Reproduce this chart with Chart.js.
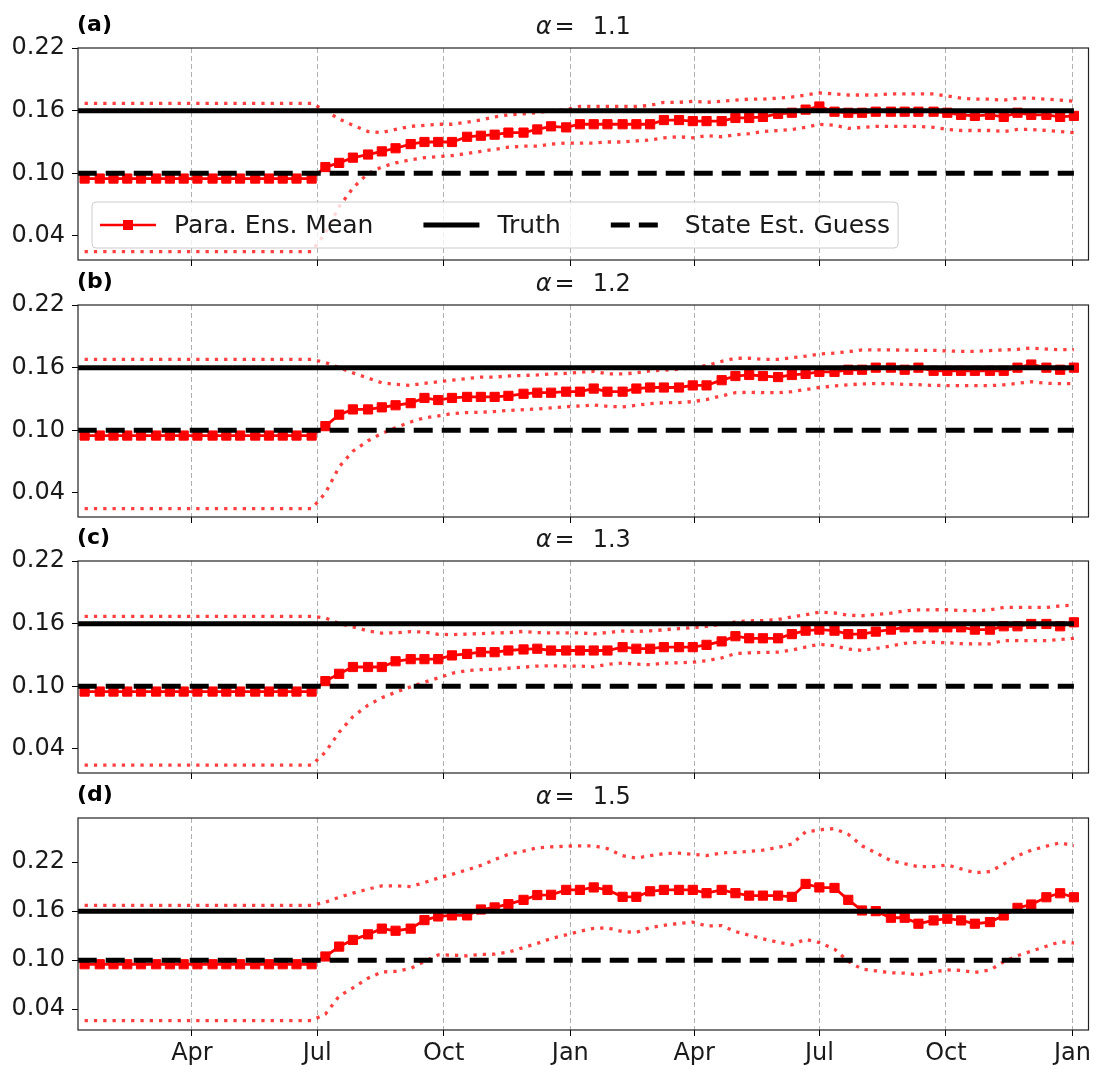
<!DOCTYPE html>
<html>
<head>
<meta charset="utf-8">
<script src="https://cdn.jsdelivr.net/npm/chart.js@4.4.0/dist/chart.umd.min.js"></script>
<style>
  body { margin: 0; background: #fff; }
  #wrap { position: relative; width: 1096px; height: 1070px; }
  #wrap canvas { position: absolute; left: 0; }
</style>
</head>
<body>
<div id="wrap">
  <canvas id="pa"></canvas>
  <canvas id="pb"></canvas>
  <canvas id="pc"></canvas>
  <canvas id="pd"></canvas>
</div>
<script>
// days counted from Jan 1 of the first year
const days = [
  12, 23, 33, 43, 53, 64, 74, 84, 94, 105,
  115, 125, 136, 146, 156, 166, 177, 187, 197, 207,
  218, 228, 238, 249, 259, 269, 279, 290, 300, 310,
  320, 331, 341, 351, 362, 372, 382, 392, 403, 413,
  423, 433, 444, 454, 464, 475, 485, 495, 505, 516,
  526, 536, 546, 557, 567, 577, 587, 598, 608, 618,
  629, 639, 649, 659, 670, 680, 690, 700, 711, 721,
  731
];
const tickDays = [90, 181, 273, 365, 455, 546, 638, 730];
const tickLabels = ['Apr', 'Jul', 'Oct', 'Jan', 'Apr', 'Jul', 'Oct', 'Jan'];
const yTicks = [0.04, 0.10, 0.16, 0.22];
const refSpan = [7, 731];
const truthValue = 0.16;
const guessValue = 0.10;
const alphas = ['1.1', '1.2', '1.3', '1.5'];
const tags = ['(a)', '(b)', '(c)', '(d)'];

// (a) alpha = 1.1
const meanA = [
  0.095, 0.095, 0.095, 0.095, 0.095, 0.095, 0.095, 0.095, 0.095, 0.095,
  0.095, 0.095, 0.095, 0.095, 0.095, 0.095, 0.095, 0.106, 0.110, 0.115,
  0.118, 0.121, 0.124, 0.128, 0.130, 0.130, 0.130, 0.135, 0.136, 0.137,
  0.139, 0.139, 0.142, 0.145, 0.144, 0.147, 0.147, 0.147, 0.147, 0.147,
  0.147, 0.151, 0.151, 0.150, 0.150, 0.150, 0.153, 0.153, 0.154, 0.157,
  0.158, 0.161, 0.164, 0.159, 0.158, 0.158, 0.159, 0.159, 0.159, 0.159,
  0.159, 0.158, 0.156, 0.155, 0.156, 0.154, 0.158, 0.156, 0.156, 0.154,
  0.155
];
const hiA = [
  0.167, 0.167, 0.167, 0.167, 0.167, 0.167, 0.167, 0.167, 0.167, 0.167,
  0.167, 0.167, 0.167, 0.167, 0.167, 0.167, 0.167, 0.160, 0.152, 0.146,
  0.140, 0.139, 0.142, 0.145, 0.146, 0.147, 0.147, 0.149, 0.151, 0.154,
  0.156, 0.157, 0.158, 0.160, 0.161, 0.164, 0.164, 0.164, 0.164, 0.164,
  0.165, 0.168, 0.168, 0.169, 0.168, 0.169, 0.170, 0.171, 0.171, 0.172,
  0.173, 0.175, 0.177, 0.176, 0.175, 0.175, 0.175, 0.176, 0.176, 0.176,
  0.176, 0.174, 0.172, 0.171, 0.171, 0.170, 0.172, 0.172, 0.171, 0.170,
  0.169
];
const loA = [
  0.025, 0.025, 0.025, 0.025, 0.025, 0.025, 0.025, 0.025, 0.025, 0.025,
  0.025, 0.025, 0.025, 0.025, 0.025, 0.025, 0.025, 0.043, 0.068, 0.086,
  0.100, 0.106, 0.110, 0.113, 0.115, 0.116, 0.117, 0.119, 0.121, 0.123,
  0.125, 0.126, 0.126, 0.128, 0.129, 0.129, 0.129, 0.130, 0.130, 0.131,
  0.132, 0.134, 0.135, 0.134, 0.136, 0.135, 0.137, 0.138, 0.140, 0.141,
  0.142, 0.144, 0.147, 0.146, 0.143, 0.144, 0.145, 0.145, 0.145, 0.145,
  0.144, 0.142, 0.141, 0.141, 0.141, 0.140, 0.142, 0.142, 0.141, 0.140,
  0.139
];

// (b) alpha = 1.2
const meanB = [
  0.095, 0.095, 0.095, 0.095, 0.095, 0.095, 0.095, 0.095, 0.095, 0.095,
  0.095, 0.095, 0.095, 0.095, 0.095, 0.095, 0.095, 0.104, 0.115, 0.120,
  0.120, 0.122, 0.124, 0.126, 0.131, 0.129, 0.131, 0.132, 0.132, 0.132,
  0.133, 0.135, 0.136, 0.136, 0.137, 0.137, 0.140, 0.137, 0.137, 0.140,
  0.141, 0.141, 0.141, 0.143, 0.143, 0.148, 0.152, 0.153, 0.152, 0.151,
  0.153, 0.154, 0.156, 0.156, 0.158, 0.158, 0.160, 0.160, 0.158, 0.160,
  0.157, 0.157, 0.157, 0.157, 0.157, 0.157, 0.160, 0.163, 0.160, 0.158,
  0.160
];
const hiB = [
  0.168, 0.168, 0.168, 0.168, 0.168, 0.168, 0.168, 0.168, 0.168, 0.168,
  0.168, 0.168, 0.168, 0.168, 0.168, 0.168, 0.168, 0.165, 0.160, 0.155,
  0.150, 0.1455, 0.144, 0.143, 0.145, 0.1465, 0.148, 0.1495, 0.151, 0.151,
  0.152, 0.1525, 0.153, 0.154, 0.1545, 0.1555, 0.1565, 0.154, 0.154, 0.155,
  0.157, 0.1575, 0.1585, 0.160, 0.162, 0.166, 0.169, 0.169, 0.168, 0.168,
  0.1695, 0.171, 0.173, 0.174, 0.1753, 0.177, 0.177, 0.177, 0.1768, 0.1766,
  0.1766, 0.176, 0.1756, 0.1756, 0.1764, 0.177, 0.1776, 0.1788, 0.1778, 0.1772,
  0.1772
];
const loB = [
  0.025, 0.025, 0.025, 0.025, 0.025, 0.025, 0.025, 0.025, 0.025, 0.025,
  0.025, 0.025, 0.025, 0.025, 0.025, 0.025, 0.025, 0.040, 0.065, 0.080,
  0.090, 0.097, 0.1025, 0.108, 0.112, 0.1138, 0.116, 0.117, 0.1172, 0.118,
  0.119, 0.1198, 0.1204, 0.1215, 0.1226, 0.1233, 0.1243, 0.123, 0.1224, 0.124,
  0.1256, 0.1264, 0.1265, 0.1275, 0.1295, 0.133, 0.136, 0.1364, 0.136, 0.136,
  0.137, 0.139, 0.141, 0.1425, 0.1435, 0.1445, 0.1447, 0.1447, 0.144, 0.1437,
  0.143, 0.1428, 0.1428, 0.1428, 0.1428, 0.1435, 0.145, 0.1465, 0.145, 0.1447,
  0.1447
];

// (c) alpha = 1.3
const meanC = [
  0.095, 0.095, 0.095, 0.095, 0.095, 0.095, 0.095, 0.095, 0.095, 0.095,
  0.095, 0.095, 0.095, 0.095, 0.095, 0.095, 0.095, 0.105, 0.112, 0.1185,
  0.1185, 0.1185, 0.124, 0.126, 0.126, 0.126, 0.1296, 0.131, 0.1327, 0.1327,
  0.1343, 0.1353, 0.136, 0.1343, 0.1343, 0.1343, 0.1343, 0.1343, 0.1375, 0.136,
  0.136, 0.1375, 0.1375, 0.1375, 0.1397, 0.143, 0.148, 0.146, 0.146, 0.146,
  0.150, 0.1533, 0.1543, 0.1533, 0.150, 0.150, 0.1524, 0.1543, 0.1565, 0.1565,
  0.1565, 0.1565, 0.1565, 0.1543, 0.1543, 0.1575, 0.1575, 0.1597, 0.1597, 0.1575,
  0.1613
];
const hiC = [
  0.167, 0.167, 0.167, 0.167, 0.167, 0.167, 0.167, 0.167, 0.167, 0.167,
  0.167, 0.167, 0.167, 0.167, 0.167, 0.167, 0.167, 0.1655, 0.160, 0.157,
  0.153, 0.151, 0.1513, 0.1524, 0.152, 0.1498, 0.1495, 0.150, 0.1505, 0.1511,
  0.1514, 0.1526, 0.1515, 0.1511, 0.1511, 0.1511, 0.1502, 0.1515, 0.153, 0.1526,
  0.1531, 0.1541, 0.1553, 0.1563, 0.1573, 0.1594, 0.1616, 0.1627, 0.1629, 0.164,
  0.1665, 0.1685, 0.171, 0.1702, 0.168, 0.1676, 0.1688, 0.170, 0.1722, 0.1732,
  0.1733, 0.1733, 0.1725, 0.1724, 0.1732, 0.1755, 0.1755, 0.1755, 0.1755, 0.177,
  0.1778
];
const loC = [
  0.0245, 0.0245, 0.0245, 0.0245, 0.0245, 0.0245, 0.0245, 0.0245, 0.0245, 0.0245,
  0.0245, 0.0245, 0.0245, 0.0245, 0.0245, 0.0245, 0.0245, 0.037, 0.056, 0.071,
  0.082, 0.089, 0.0943, 0.0995, 0.104, 0.108, 0.1125, 0.115, 0.116, 0.1163,
  0.1173, 0.1183, 0.1194, 0.1196, 0.1194, 0.1194, 0.1187, 0.121, 0.1223, 0.1212,
  0.1207, 0.1222, 0.1226, 0.1231, 0.1245, 0.1272, 0.1313, 0.1321, 0.1325, 0.1327,
  0.1348, 0.1376, 0.1403, 0.1388, 0.1357, 0.1344, 0.1362, 0.1387, 0.1412, 0.1421,
  0.1422, 0.1417, 0.1408, 0.1407, 0.1407, 0.1438, 0.1438, 0.1438, 0.1438, 0.1448,
  0.146
];

// (d) alpha = 1.5
const meanD = [
  0.095, 0.095, 0.095, 0.095, 0.095, 0.095, 0.095, 0.095, 0.095, 0.095,
  0.095, 0.095, 0.095, 0.095, 0.095, 0.095, 0.095, 0.1045, 0.1166, 0.1248,
  0.1316, 0.1386, 0.136, 0.1386, 0.149, 0.1535, 0.1548, 0.1548, 0.162, 0.1645,
  0.1685, 0.1738, 0.1797, 0.180, 0.186, 0.186, 0.189, 0.186, 0.1775, 0.1775,
  0.1843, 0.186, 0.186, 0.186, 0.182, 0.186, 0.182, 0.179, 0.179, 0.179,
  0.1775, 0.1933, 0.189, 0.1884, 0.1738, 0.1608, 0.160, 0.1519, 0.1519, 0.1446,
  0.1486, 0.1507, 0.1486, 0.1446, 0.1466, 0.1547, 0.164, 0.1681, 0.177, 0.1819,
  0.177
];
const hiD = [
  0.167, 0.167, 0.167, 0.167, 0.167, 0.167, 0.167, 0.167, 0.167, 0.167,
  0.167, 0.167, 0.167, 0.167, 0.167, 0.167, 0.167, 0.171, 0.177, 0.182,
  0.187, 0.191, 0.191, 0.190, 0.195, 0.2005, 0.205, 0.2105, 0.216, 0.223,
  0.2295, 0.2335, 0.2375, 0.2387, 0.2395, 0.240, 0.240, 0.2365, 0.2278, 0.225,
  0.2278, 0.2305, 0.231, 0.2295, 0.228, 0.2312, 0.232, 0.233, 0.2347, 0.238,
  0.242, 0.257, 0.2595, 0.261, 0.254, 0.240, 0.2315, 0.2217, 0.218, 0.2144,
  0.2146, 0.2165, 0.2118, 0.207, 0.2085, 0.2175, 0.2278, 0.2345, 0.2395, 0.2437,
  0.240
];
const loD = [
  0.026, 0.026, 0.026, 0.026, 0.026, 0.026, 0.026, 0.026, 0.026, 0.026,
  0.026, 0.026, 0.026, 0.026, 0.026, 0.026, 0.026, 0.034, 0.056, 0.066,
  0.078, 0.0855, 0.0862, 0.090, 0.0985, 0.1065, 0.1062, 0.1052, 0.107, 0.1073,
  0.1098, 0.1155, 0.1205, 0.1265, 0.131, 0.1353, 0.139, 0.1395, 0.135, 0.134,
  0.140, 0.1426, 0.145, 0.1466, 0.1418, 0.1423, 0.135, 0.1305, 0.1262, 0.122,
  0.1187, 0.1256, 0.1215, 0.1135, 0.0985, 0.089, 0.087, 0.0845, 0.084, 0.082,
  0.0857, 0.088, 0.0875, 0.085, 0.0878, 0.098, 0.1055, 0.111, 0.117, 0.1225,
  0.121
];

const FONT = 'DejaVu Sans';
const RED = '#ff0000';
const RED_DOT = 'rgba(255, 0, 0, 0.75)';
Chart.defaults.font.family = FONT;

// box round the plot, panel tag, title and (in panel a) the legend
const panelDecor = {
  id: 'panelDecor',
  afterDatasetsDraw(chart, args, opts) {
    if (!opts.legend) return;
    const {ctx, chartArea: a} = chart;
    ctx.save();
    ctx.font = '25px "' + FONT + '"';
    const entries = [
      {text: 'Para. Ens. Mean', kind: 'mean'},
      {text: 'Truth', kind: 'truth'},
      {text: 'State Est. Guess', kind: 'guess'}
    ];
    const handleLen = 56, textPad = 18, colGap = 50, inner = 8, boxH = 46;
    let boxW = inner * 2;
    entries.forEach((e, i) => {
      e.w = ctx.measureText(e.text).width;
      boxW += handleLen + textPad + e.w + (i ? colGap : 0);
    });
    const bx = a.left + 14, by = a.bottom - 12 - boxH;
    ctx.beginPath();
    ctx.roundRect(bx, by, boxW, boxH, 4);
    ctx.fillStyle = 'rgba(255,255,255,0.8)';
    ctx.fill();
    ctx.strokeStyle = '#cccccc';
    ctx.lineWidth = 1;
    ctx.stroke();
    const cy = by + boxH / 2;
    let cx = bx + inner;
    entries.forEach((e, i) => {
      if (i) cx += colGap;
      ctx.beginPath();
      ctx.moveTo(cx, cy);
      ctx.lineTo(cx + handleLen, cy);
      if (e.kind === 'mean') {
        ctx.strokeStyle = RED; ctx.lineWidth = 2.5; ctx.setLineDash([]);
        ctx.stroke();
        ctx.fillStyle = RED;
        ctx.fillRect(cx + handleLen / 2 - 5, cy - 5, 10, 10);
      } else {
        ctx.strokeStyle = '#000'; ctx.lineWidth = 5;
        ctx.setLineDash(e.kind === 'guess' ? [19, 9] : []);
        ctx.stroke();
      }
      ctx.setLineDash([]);
      cx += handleLen + textPad;
      ctx.fillStyle = '#1a1a1a';
      ctx.textAlign = 'left';
      ctx.textBaseline = 'middle';
      ctx.fillText(e.text, cx, cy + 1);
      cx += e.w;
    });
    ctx.restore();
  },
  afterDraw(chart, args, opts) {
    const {ctx, chartArea: a} = chart;
    ctx.save();
    ctx.strokeStyle = '#222';
    ctx.lineWidth = 1.2;
    ctx.strokeRect(a.left, a.top, a.right - a.left, a.bottom - a.top);

    ctx.fillStyle = '#000';
    ctx.textBaseline = 'middle';
    ctx.textAlign = 'left';
    ctx.font = 'bold 22px "' + FONT + '"';
    ctx.fillText(opts.tag, a.left - 1, a.top - 23);

    // title: italic alpha, then "=  value"
    const partA = 'α', partB = '=', partC = opts.alpha;
    ctx.font = 'italic 24px "' + FONT + '"';
    const wA = ctx.measureText(partA).width;
    ctx.font = '24px "' + FONT + '"';
    const wB = ctx.measureText(partB).width;
    const wC = ctx.measureText(partC).width;
    const gap1 = 3, gap2 = 18;
    const total = wA + gap1 + wB + gap2 + wC;
    let x = (a.left + a.right) / 2 - total / 2;
    const y = a.top - 20;
    ctx.fillStyle = '#1a1a1a';
    ctx.font = 'italic 24px "' + FONT + '"';
    ctx.fillText(partA, x, y);
    x += wA + gap1;
    ctx.font = '24px "' + FONT + '"';
    ctx.fillText(partB, x, y);
    x += wB + gap2;
    ctx.fillText(partC, x, y);
    ctx.restore();
  }
};

const panels = [
  {id: 'pa', mean: meanA, hi: hiA, lo: loA, yMin: 0.017, yMax: 0.22, top: 0, showX: false, legend: true},
  {id: 'pb', mean: meanB, hi: hiB, lo: loB, yMin: 0.017, yMax: 0.22, top: 257, showX: false, legend: false},
  {id: 'pc', mean: meanC, hi: hiC, lo: loC, yMin: 0.017, yMax: 0.22, top: 513, showX: false, legend: false},
  {id: 'pd', mean: meanD, hi: hiD, lo: loD, yMin: 0.0145, yMax: 0.274, top: 770, showX: true, legend: false}
];

panels.forEach((p, i) => {
  const canvas = document.getElementById(p.id);
  canvas.width = 1096;
  canvas.height = p.showX ? 300 : 270;
  canvas.style.top = p.top + 'px';

  const pts = vals => days.map((d, k) => ({x: d, y: vals[k]}));
  const flat = v => refSpan.map(d => ({x: d, y: v}));

  new Chart(canvas, {
    type: 'line',
    data: {
      datasets: [
        {label: 'Truth', data: flat(truthValue), borderColor: '#000', borderWidth: 5, pointRadius: 0},
        {label: 'State Est. Guess', data: flat(guessValue), borderColor: '#000', borderWidth: 5,
          borderDash: [19, 9], pointRadius: 0},
        {label: 'Para. Ens. Mean', data: pts(p.mean), borderColor: RED, borderWidth: 2.8,
          pointStyle: 'rect', pointRadius: 6.5, pointBackgroundColor: RED, pointBorderColor: RED,
          pointBorderWidth: 1},
        {label: 'upper', data: pts(p.hi), borderColor: RED_DOT, borderWidth: 3.3,
          borderDash: [3.3, 6], pointRadius: 0},
        {label: 'lower', data: pts(p.lo), borderColor: RED_DOT, borderWidth: 3.3,
          borderDash: [3.3, 6], pointRadius: 0}
      ]
    },
    options: {
      responsive: false,
      animation: false,
      devicePixelRatio: 1,
      layout: {padding: {top: 48, right: 7, left: 0, bottom: 0}},
      plugins: {
        legend: {display: false},
        tooltip: {enabled: false},
        panelDecor: {tag: tags[i], alpha: alphas[i], legend: p.legend}
      },
      scales: {
        x: {
          type: 'linear',
          min: 7.2,
          max: 741.6,
          afterBuildTicks: s => { s.ticks = tickDays.map(v => ({value: v})); },
          afterFit: s => {
            s.height = p.showX ? 40 : 10;
            s.paddingLeft = 0;
            s.paddingRight = 0;
          },
          ticks: {
            display: p.showX, autoSkip: false, maxRotation: 0, padding: 3,
            color: '#1a1a1a', font: {family: FONT, size: 24},
            callback: (v, idx) => tickLabels[idx]
          },
          grid: {color: '#b0b0b0', lineWidth: 1, tickLength: 6, tickColor: '#000', tickWidth: 1},
          border: {display: false, dash: [5, 3]}
        },
        y: {
          min: p.yMin,
          max: p.yMax,
          afterBuildTicks: s => { s.ticks = yTicks.map(v => ({value: v})); },
          afterFit: s => {
            s.width = 78;
            s.paddingTop = 0;
            s.paddingBottom = 0;
          },
          ticks: {
            padding: 7, color: '#1a1a1a', font: {family: FONT, size: 24},
            callback: v => v.toFixed(2)
          },
          grid: {drawOnChartArea: false, tickLength: 6, tickColor: '#000', tickWidth: 1},
          border: {display: false}
        }
      }
    },
    plugins: [panelDecor]
  });
});
</script>
</body>
</html>
